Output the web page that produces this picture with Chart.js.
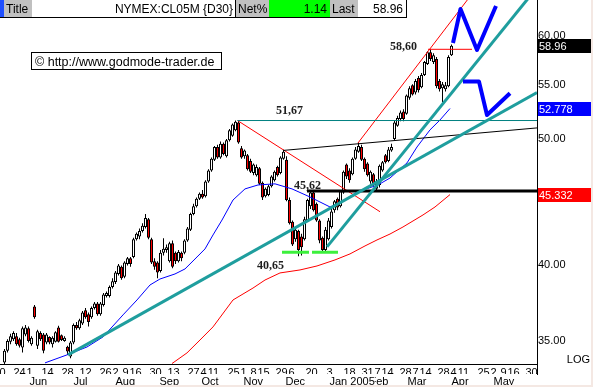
<!DOCTYPE html>
<html><head><meta charset="utf-8">
<script src="https://cdn.jsdelivr.net/npm/chart.js@4/dist/chart.umd.min.js"></script>
<style>html,body{margin:0;padding:0;background:#fff;}canvas{display:block;}</style>
</head><body>
<canvas id="c" width="593" height="387"></canvas>
<script>
// ---------- DATA ----------
const opens = [33.7,34.4,34.95,35.1,35.3,35.1,34.6,35.4,35.8,34.8,
37.2,34.7,35.5,35.4,34.9,35.25,34.8,34.95,35.85,35.35,
35.0,34.65,34.05,34.9,36.0,35.8,36.1,36.95,36.7,36.5,
37.1,37.4,36.7,37.3,37.9,37.9,38.5,38.85,39.4,39.9,
39.2,40.1,40.5,40.6,41.9,42.1,42.5,42.8,43.4,41.9,
40.3,40.2,39.6,40.9,41.1,40.3,41.6,40.9,40.3,40.9,
40.9,41.8,42.6,43.8,44.4,45.0,45.4,45.2,46.4,47.3,
48.2,49.3,48.4,49.6,48.5,49.9,50.3,50.8,51.5,49.2,
48.5,48.6,48.1,47.1,46.9,47.5,46.3,45.2,45.3,46.0,
46.5,47.6,47.1,48.3,48.2,44.9,43.2,41.9,42.5,42.1,
41.9,43.3,44.4,45.5,44.6,43.3,42.0,41.1,41.9,42.8,
44.1,45.0,44.4,45.5,47.8,47.3,47.0,48.3,48.9,49.3,
48.3,47.9,46.4,47.0,46.4,46.1,47.3,48.6,48.1,49.0,
50.0,51.2,51.8,52.5,52.3,53.8,55.0,54.3,55.7,54.8,
56.0,57.1,58.3,57.3,57.6,55.4,54.7,54.6,54.9,58.0];
const highs = [34.5,35.1,35.45,35.6,35.5,35.2,35.9,36.0,35.9,35.3,
37.3,35.7,35.6,35.5,35.5,35.3,35.3,35.6,35.95,35.4,
35.3,34.7,35.0,36.1,36.2,36.4,36.9,37.1,36.8,37.2,
37.5,37.5,37.5,38.1,38.2,38.6,39.1,39.6,40.1,40.0,
40.3,40.6,40.6,42.0,42.4,42.7,43.1,43.8,43.5,42.0,
40.5,40.3,41.1,41.97,41.5,41.7,41.8,41.0,41.1,41.0,
41.9,42.8,43.9,44.6,45.1,45.5,45.7,46.5,47.4,48.4,
49.4,49.5,49.8,49.7,50.0,50.9,51.4,51.67,51.67,49.4,
49.1,48.7,48.3,47.9,47.8,47.6,46.4,45.9,46.1,46.9,
47.3,47.7,48.5,49.06,48.5,45.1,43.3,42.8,42.6,42.3,
43.6,45.0,45.62,45.62,44.7,43.4,42.1,42.8,43.5,44.2,
44.9,45.1,45.7,47.3,47.9,47.5,48.4,49.3,49.7,49.5,
48.4,48.0,47.3,47.1,46.6,47.8,48.1,48.7,49.3,49.6,
51.7,52.1,52.6,52.7,54.1,54.9,55.1,55.6,55.9,56.2,
57.4,58.4,58.6,58.2,57.8,55.6,55.3,55.3,58.0,59.1];
const lows = [33.6,34.3,34.8,35.0,34.7,34.6,34.3,35.3,34.9,34.7,
36.4,34.5,35.0,34.25,34.8,34.8,34.6,34.9,34.9,35.0,
34.95,34.15,33.95,34.8,35.7,35.7,36.0,36.4,35.9,36.4,
37.0,36.6,36.6,37.2,37.8,37.8,38.4,38.7,39.3,39.0,
39.1,40.0,39.9,40.5,41.8,41.9,42.4,42.7,41.9,40.1,
39.7,39.1,39.5,40.7,40.9,40.2,39.8,40.1,40.2,40.3,
40.8,41.7,42.5,43.7,44.3,44.9,45.0,45.1,46.3,47.2,
48.1,48.3,48.3,48.6,48.4,49.8,50.2,50.7,49.6,48.3,
48.3,47.3,47.1,46.9,46.8,46.1,44.9,45.1,45.2,45.9,
46.4,46.8,47.0,48.2,44.8,43.0,41.4,41.7,40.65,40.7,
41.8,43.2,44.2,44.0,43.2,41.6,40.9,40.9,41.8,42.7,
43.9,44.1,44.3,45.4,46.6,46.3,46.9,48.2,48.8,48.1,
47.2,46.8,46.2,46.0,45.6,45.9,47.2,47.9,48.0,48.9,
49.9,51.1,51.6,51.6,52.2,53.6,54.0,54.1,54.3,54.7,
55.9,57.0,57.4,57.1,54.7,54.4,53.4,54.4,54.8,57.9];
const closes = [34.4,35.0,35.3,35.5,34.8,34.7,35.8,35.85,35.0,35.2,
36.5,35.6,35.1,34.4,35.4,34.9,35.2,35.55,34.95,35.06,
35.2,34.35,34.9,36.0,35.8,36.3,36.8,36.5,36.2,37.1,
37.4,36.7,37.4,38.0,38.1,38.5,38.9,39.5,40.0,39.1,
40.2,40.5,40.1,41.9,42.3,42.5,42.9,43.5,42.0,40.2,
39.9,39.5,40.9,41.2,41.3,41.6,39.9,40.3,40.95,40.5,
41.8,42.7,43.8,44.4,45.0,45.4,45.1,46.4,47.3,48.3,
49.3,48.4,49.6,48.7,49.9,50.8,51.3,51.55,49.7,48.4,
49.0,47.4,47.2,47.8,47.6,46.2,45.1,45.8,46.0,46.8,
47.2,46.9,48.4,48.9,44.9,43.1,41.5,42.6,41.1,41.3,
43.4,44.9,45.5,44.1,43.3,41.8,41.1,42.6,43.3,44.0,
44.8,44.3,45.6,47.2,46.8,46.5,48.3,49.1,49.4,48.2,
47.4,46.9,47.2,46.2,45.8,47.7,48.0,48.0,49.1,49.3,
51.5,51.9,52.4,51.8,54.0,54.7,54.1,55.4,54.5,56.0,
57.3,58.3,57.6,58.0,54.9,54.6,55.1,55.0,57.8,58.96];

// moving averages [index, value]
const blueMA = [[13.5,33.67],[20.83,34.15],[27.5,34.63],[32.83,35.25],[39.5,36.65],[44.17,37.63],[48.5,38.64],[51.83,39.05],[56.83,39.40],[60.17,39.75],[64.17,40.60],[66.83,41.18],[69.5,42.21],[72.5,43.34],[76.17,44.90],[80.17,45.79],[84.5,46.11],[90.17,46.20],[95.83,45.79],[101.83,45.14],[108.5,44.35],[111.83,44.67],[117.5,45.54],[124.5,46.11],[128.5,46.68],[134.17,47.94],[137.5,49.31],[141.83,50.82],[145.17,51.72],[148.5,52.778]];
const redMA = [[55.83,33.63],[60.83,34.27],[65.17,35.06],[69.5,35.88],[76.17,37.63],[82.83,38.43],[86.83,38.98],[91.83,39.47],[98.5,39.68],[104.17,39.96],[110.17,40.39],[115.17,40.82],[120.17,41.40],[124.17,41.84],[128.5,42.28],[132.83,42.81],[139.5,43.73],[143.5,44.35],[148.5,45.332]];

// drawn trend lines [index, value]
const trendA = [[21.17,34.15],[177.5,54.29]];
const trendB = [[107.5,41.33],[176.83,65.08]];
const redUp = [[117.83,49.66],[156.83,65.08]];
const redDown = [[77.67,51.67],[125.17,43.98]];
const redLevel = [[141.17,58.60],[155.83,58.60]];
const tealLevel = [[77.67,51.67],[177.5,51.67]];
const blackLevel = [[100.83,45.62],[177.5,45.62]];
const blackLine = [[92.83,49.01],[177.5,51.0]];
const greenLow1 = [[92.5,40.94],[101.5,40.94]];
const greenLow2 = [[102.5,40.94],[111.17,40.94]];
const zigUp = [[149.5,59.26],[152,62.93],[157.5,58.53],[163.83,63.27]];
const zigDown = [[152.83,55.35],[158.17,55.35],[160.83,52.18],[168.5,54.22]];

// level labels
const levelValues = [51.67, 45.62, 40.65, 58.60];
const levelIdx = [90.5, 96.5, 84.17, 128.5];

// axes
const yTicks = [35,40,45,50,55,60];
const dayTickPos = [-1.667,5,8.333,14.333,21,27,33.667,37,40.333,43.667,50.333,56.333,63,66.333,69.667,76.333,79.667,83,86.333,92.333,95.667,102.333,108.333,115,121,124.333,127.667,133.667,137,140.333,146.333,149.667,153,159.667,163,166.333,169.667,175.667];
const dayTickText = ['10','24','1','14','28','12','26','2','9','16','30','13','27','4','11','25','1','8','15','29','6','20','3','18','31','7','14','28','7','14','28','4','11','25','2','9','16','30'];
const monthTickPos = [8.333,23,37,51.667,65.667,79.667,93.667,108.333,121.667,134.333,149,163];
const monthTickText = ['Jun','Jul','Aug','Sep','Oct','Nov','Dec','Jan 2005','Feb','Mar','Apr','May'];
const monthDrawOrder = [0,1,2,3,4,5,6,8,7,9,10,11];

const valueTags = [58.96, 52.778, 45.332];
const tagText = ['58.96','52.778','45.332'];
const headerSymbol = 'NYMEX:CL05M {D30}';
const headerNet = '1.14';

// ---------- STYLE ----------
const FONT = "'Liberation Sans', Arial, Helvetica, sans-serif";
const X_MIN = -1.5, X_MAX = 177.5, Y_MIN = 33.604, Y_MAX = 63.935;
const tagColors = ['#000000', '#0000ff', '#ff0000'];
const TEAL = '#1f9e9e';

const toXY = a => a.map(p => ({x: p[0], y: p[1]}));
function lineDS(pts, color, width, order) {
  return {type: 'line', data: toXY(pts), borderColor: color, borderWidth: width,
    pointRadius: 0, fill: false, tension: 0, order: order, borderJoinStyle: 'round',
    xAxisID: 'x', yAxisID: 'y'};
}

const wickData = opens.map((o, i) => ({x: i, y: [lows[i], highs[i]]}));
const bodyData = opens.map((o, i) => ({x: i, y: [Math.min(o, closes[i]), Math.max(o, closes[i])]}));
const bodyColors = opens.map((o, i) => closes[i] >= o ? '#ffffff' : '#ff0000');

const deco = {
  id: 'deco',
  beforeDraw(chart) {
    const c = chart.ctx; c.save(); c.fillStyle = '#fff'; c.fillRect(0, 0, chart.width, chart.height); c.restore();
  },
  afterDraw(chart) {
    const c = chart.ctx, ys = chart.scales.y, xs = chart.scales.x, a = chart.chartArea;
    c.save();
    // axis line extension
    c.strokeStyle = '#000'; c.lineWidth = 1;
    c.beginPath(); c.moveTo(a.right + 0.5, a.bottom); c.lineTo(a.right + 0.5, a.bottom + 11); c.stroke();
    // value tags
    c.font = '11px ' + FONT; c.textBaseline = 'middle'; c.textAlign = 'left';
    valueTags.forEach((v, k) => {
      const py = Math.round(ys.getPixelForValue(v));
      c.fillStyle = tagColors[k]; c.fillRect(a.right + 1, py - 7, chart.width - a.right - 1, 14);
      c.fillStyle = '#fff'; c.fillText(tagText[k], a.right + 2, py + 0.5);
    });
    c.fillStyle = '#000'; c.textAlign = 'right'; c.textBaseline = 'alphabetic';
    c.fillText('LOG', 590, 363);
    // level labels
    const dy = [-6.6, -2.5, 12.7, 0.6];
    c.font = 'bold 12px "Liberation Serif", "Times New Roman", serif';
    c.textAlign = 'left'; c.fillStyle = '#1e1e1e';
    levelValues.forEach((v, k) => {
      c.fillText(v.toFixed(2).replace('.', ','), xs.getPixelForValue(levelIdx[k]), ys.getPixelForValue(v) + dy[k]);
    });
    // copyright box
    c.fillStyle = '#fff'; c.fillRect(31, 52, 191, 18);
    c.strokeStyle = '#000'; c.strokeRect(31.5, 52.5, 190, 17);
    c.fillStyle = '#000'; c.font = '12.5px ' + FONT; c.textAlign = 'left';
    c.fillText('\u00A9 http://www.godmode-trader.de', 35, 66);
    // header bar
    c.font = '12px ' + FONT;
    c.fillStyle = '#1f4fff'; c.fillRect(0, 0, 4, 17);
    c.fillStyle = '#c0c0c0'; c.fillRect(4, 0, 28, 17);
    c.fillStyle = '#fff'; c.fillRect(32, 0, 203, 17);
    c.fillStyle = '#c0c0c0'; c.fillRect(236, 0, 33, 17);
    c.fillStyle = '#00ff00'; c.fillRect(269, 0, 61, 17);
    c.fillStyle = '#c0c0c0'; c.fillRect(330, 0, 28, 17);
    c.fillStyle = '#fff'; c.fillRect(358, 0, 48, 17);
    c.fillStyle = '#000';
    c.textAlign = 'left'; c.fillText('Title', 6, 13);
    c.textAlign = 'right'; c.fillText(headerSymbol, 233, 13);
    c.textAlign = 'left'; c.fillText('Net%', 238, 13);
    c.textAlign = 'right'; c.fillText(headerNet, 327, 13);
    c.textAlign = 'left'; c.fillText('Last', 332, 13);
    c.textAlign = 'right'; c.fillText(closes[closes.length - 1].toFixed(2), 403, 13);
    c.beginPath();
    c.moveTo(0, 17.5); c.lineTo(407, 17.5);
    c.moveTo(235.5, 0); c.lineTo(235.5, 17.5);
    c.moveTo(406.5, 0); c.lineTo(406.5, 17.5);
    c.stroke();
    // window border
    c.fillStyle = '#f4e8e3';
    c.fillRect(chart.width - 2, 0, 2, chart.height);
    c.fillRect(0, chart.height - 2, chart.width, 2);
    c.restore();
  }
};

new Chart(document.getElementById('c'), {
  type: 'bar',
  data: {
    datasets: [
      lineDS(zigUp, '#0000ff', 4, 0),
      lineDS(zigDown, '#0000ff', 4, 0),
      lineDS(trendA, TEAL, 3, 1),
      lineDS(trendB, TEAL, 3, 1),
      lineDS(tealLevel, '#008080', 1, 1),
      lineDS(blackLevel, '#000000', 3, 1),
      lineDS(blackLine, '#000000', 1, 1),
      lineDS(redUp, '#ff0000', 1, 1),
      lineDS(redDown, '#ff0000', 1, 1),
      lineDS(redLevel, '#ff0000', 1, 1),
      lineDS(greenLow1, '#3cf03c', 3, 1),
      lineDS(greenLow2, '#3cf03c', 3, 1),
      lineDS(blueMA, '#0000ff', 1, 1),
      lineDS(redMA, '#ff0000', 1, 1),
      {type: 'bar', data: bodyData, backgroundColor: bodyColors, borderColor: '#000', borderWidth: 1,
       borderSkipped: false, barThickness: 3, grouped: false, inflateAmount: 0, order: 2, xAxisID: 'x', yAxisID: 'y'},
      {type: 'bar', data: wickData, backgroundColor: '#000', borderWidth: 0, barThickness: 1,
       grouped: false, inflateAmount: 0, order: 3, xAxisID: 'x', yAxisID: 'y'}
    ]
  },
  options: {
    responsive: false, animation: false, events: [],
    layout: {padding: 0},
    plugins: {legend: {display: false}, tooltip: {enabled: false}},
    scales: {
      x: {type: 'linear', position: 'bottom', weight: 0, min: X_MIN, max: X_MAX, offset: false,
        grid: {display: false, drawTicks: false}, border: {display: true, color: '#000', width: 1},
        afterBuildTicks: s => { s.ticks = dayTickPos.map(v => ({value: v})); },
        afterFit: s => { s.height = 10; s.paddingLeft = 0; s.paddingRight = 0; },
        ticks: {autoSkip: false, maxRotation: 0, minRotation: 0, padding: 2, color: '#000',
          font: {family: FONT, size: 11}, callback: (v, i) => dayTickText[i]}},
      x2: {type: 'linear', position: 'bottom', weight: 1, min: X_MIN, max: X_MAX, offset: false,
        grid: {display: false, drawTicks: false}, border: {display: false},
        afterBuildTicks: s => { s.ticks = monthDrawOrder.map(k => ({value: monthTickPos[k]})); },
        afterFit: s => { s.height = 13; s.paddingLeft = 0; s.paddingRight = 0; },
        ticks: {autoSkip: false, maxRotation: 0, minRotation: 0, padding: 1, align: 'start', color: '#000',
          showLabelBackdrop: true, backdropColor: '#fff', backdropPadding: 0,
          font: {family: FONT, size: 11}, callback: (v, i) => monthTickText[monthDrawOrder[i]]}},
      y: {type: 'logarithmic', position: 'right', min: Y_MIN, max: Y_MAX, beginAtZero: false,
        grid: {display: false, drawTicks: false}, border: {display: true, color: '#000', width: 1},
        afterBuildTicks: s => { s.ticks = yTicks.map(v => ({value: v})); },
        afterFit: s => { s.width = 56; s.paddingTop = 0; s.paddingBottom = 0; },
        ticks: {padding: 1, color: '#000', font: {family: FONT, size: 11},
          callback: v => Number(v).toFixed(2)}}
    }
  },
  plugins: [deco]
});
</script>
</body></html>
